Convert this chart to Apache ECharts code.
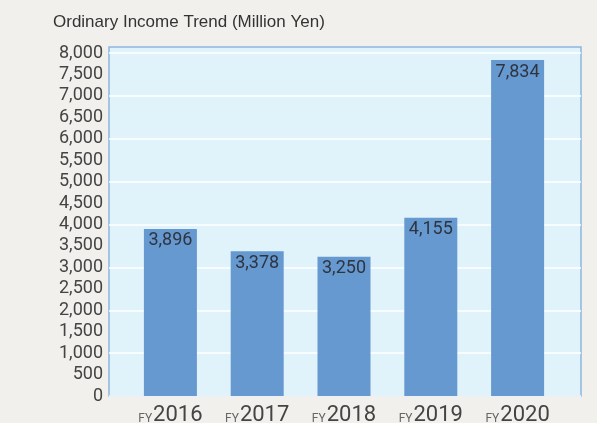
<!DOCTYPE html>
<html><head><meta charset="utf-8">
<script src="https://cdn.jsdelivr.net/npm/echarts@6/dist/echarts.min.js"></script>
<style>html,body{margin:0;padding:0;background:#f1f0ec;}#c{width:597px;height:423px;}</style>
</head><body><div id="c"></div>
<script>
var categories = ['2016', '2017', '2018', '2019', '2020'];
var values = [3896, 3378, 3250, 4155, 7834];
var titleText = 'Ordinary Income Trend (Million Yen)';

var chart = echarts.init(document.getElementById('c'));
var font = 'Roboto';
chart.setOption({
  backgroundColor: '#f1f0ec',
  animation: false,
  title: { text: titleText, left: 48, top: 9, textStyle: { fontFamily: 'Liberation Sans', fontSize: 17, fontWeight: 'normal', color: '#333' } },
  grid: [
    { left: 109, right: 16, top: 47, bottom: 27, show: true, backgroundColor: '#e0f2fa', borderColor: '#8db6e0', borderWidth: 1.5, outerBoundsMode: 'none' },
    { left: 109, right: 16, top: 53, bottom: 27, outerBoundsMode: 'none' },
    { left: 127, width: 434, top: 53, bottom: 27, outerBoundsMode: 'none' }
  ],
  xAxis: [
    { gridIndex: 0, type: 'value', show: false },
    { gridIndex: 1, type: 'value', show: false },
    { gridIndex: 2, type: 'category', data: categories,
      axisLine: { show: false }, axisTick: { show: false },
      axisLabel: { interval: 0, margin: 8, formatter: function (v) { return '{a|FY}{b|' + v + '}'; },
        rich: { a: { fontFamily: font, fontSize: 12, color: '#666', padding: [7, 1, 0, 0] }, b: { fontFamily: font, fontSize: 22, color: '#444' } } } }
  ],
  yAxis: [
    { gridIndex: 0, type: 'value', show: false },
    { gridIndex: 1, type: 'value', min: 0, max: 8000, interval: 500,
      axisLine: { show: false }, axisTick: { show: false }, splitLine: { show: false },
      axisLabel: { margin: 6, fontFamily: font, fontSize: 18, color: '#444',
        formatter: function (v) { return v.toLocaleString('en-US'); } } },
    { gridIndex: 1, type: 'value', min: 0, max: 8000, interval: 1000,
      axisLine: { show: false }, axisTick: { show: false }, axisLabel: { show: false },
      splitLine: { show: true, lineStyle: { color: '#ffffff', width: 1.5 } } },
    { gridIndex: 2, type: 'value', min: 0, max: 8000, show: false }
  ],
  series: [{
    type: 'bar', xAxisIndex: 2, yAxisIndex: 3, data: values, barWidth: 53,
    itemStyle: { color: '#6699d0' },
    label: { show: true, position: 'insideTop', distance: 3, fontFamily: font, fontSize: 18, color: '#2e3440',
      formatter: function (p) { return p.value.toLocaleString('en-US'); } }
  }]
});
</script></body></html>
